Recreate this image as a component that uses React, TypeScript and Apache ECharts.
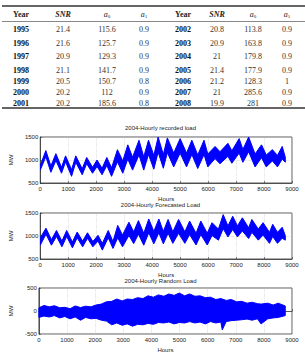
import React, { useEffect, useRef } from "react";
import * as echarts from "echarts";

// ---------- table data ----------
const leftYears = [1995, 1996, 1997, 1998, 1999, 2000, 2001];
const leftSNR = [21.4, 21.6, 20.9, 21.1, 20.5, 20.2, 20.2];
const leftA0 = [115.6, 125.7, 129.3, 141.7, 150.7, 112, 185.6];
const leftA1 = [0.9, 0.9, 0.9, 0.9, 0.8, 0.9, 0.8];
const rightYears = [2002, 2003, 2004, 2005, 2006, 2007, 2008];
const rightSNR = [20.8, 20.9, 21, 21.4, 21.2, 21, 19.9];
const rightA0 = [113.8, 163.8, 179.8, 177.9, 128.3, 285.6, 281];
const rightA1 = [0.9, 0.9, 0.9, 0.9, 1, 0.9, 0.9];

// ---------- chart titles / ticks ----------
const chartTitles = ["2004-Hourly recorded load", "2004-Hourly Forecasted Load", "2004-Hourly Random Load"];
const hourTicks = { min: 0, max: 9000, step: 1000 };
const loadTicks = { min: 500, max: 1500, step: 500 };
const randomTicks = { min: -500, max: 500, step: 500 };

// ---------- recorded load envelope (MW) ----------
const recordedHours = [
  0, 200, 380, 560, 760, 905, 1120, 1270, 1500, 1660,
  1870, 2030, 2210, 2380, 2550, 2760, 2950, 3130, 3300, 3530,
  3700, 3870, 4060, 4215, 4400, 4545, 4770, 5000, 5230, 5420,
  5630, 5855, 5990, 6250, 6425, 6710, 6850, 7110, 7245, 7450,
  7680, 7910, 8080, 8300, 8480, 8650, 8760,
];
const recordedUpper = [
  880, 1205, 870, 1137, 840, 1090, 790, 1090, 810, 1055,
  840, 1000, 820, 1055, 830, 1225, 980, 1330, 1060, 1430,
  1070, 1430, 1100, 1500, 1120, 1480, 1150, 1465, 1150, 1430,
  1110, 1430, 1130, 1295, 1180, 1363, 1200, 1465, 1230, 1500,
  1130, 1330, 1110, 1225, 1100, 1295, 1060,
];
const recordedLower = [
  780, 1070, 733, 990, 712, 960, 645, 950, 680, 920,
  712, 860, 680, 880, 645, 960, 712, 1020, 780, 1110,
  780, 1120, 800, 1170, 820, 1160, 850, 1150, 850, 1120,
  815, 1120, 850, 1030, 918, 1080, 930, 1150, 950, 1180,
  850, 1050, 850, 980, 850, 1020, 950,
];

// ---------- forecasted load envelope (MW) ----------
const forecastHours = [
  0, 205, 400, 580, 775, 945, 1150, 1320, 1515, 1690,
  1880, 2065, 2220, 2430, 2600, 2770, 2940, 3170, 3340, 3510,
  3700, 3880, 4060, 4240, 4400, 4570, 4740, 4945, 5170, 5340,
  5570, 5740, 5970, 6140, 6370, 6540, 6710, 6880, 7050, 7225,
  7450, 7565, 7795, 7965, 8195, 8310, 8480, 8650, 8760,
];
const forecastUpper = [
  960, 1170, 920, 1120, 890, 1120, 870, 1085, 890, 1070,
  880, 1015, 840, 1120, 880, 1230, 1020, 1300, 1090, 1335,
  1060, 1370, 1100, 1370, 1100, 1360, 1090, 1360, 1090, 1325,
  1060, 1325, 1060, 1290, 1150, 1465, 1220, 1430, 1220, 1395,
  1180, 1360, 1150, 1290, 1080, 1255, 1080, 1190, 1010,
];
const forecastLower = [
  800, 1040, 800, 990, 765, 990, 743, 960, 765, 950,
  765, 890, 693, 960, 730, 960, 765, 1010, 835, 1040,
  800, 1070, 830, 1070, 830, 1060, 840, 1060, 840, 1030,
  805, 1030, 805, 1010, 910, 1160, 980, 1140, 980, 1110,
  945, 1080, 910, 1020, 840, 990, 840, 950, 910,
];

// ---------- random load envelope (MW) ----------
const randomHours = [
  0, 180, 370, 550, 740, 920, 1110, 1290, 1480, 1660,
  1850, 2030, 2220, 2400, 2590, 2770, 2960, 3140, 3330, 3510,
  3700, 3880, 4070, 4250, 4440, 4620, 4810, 4990, 5180, 5360,
  5550, 5730, 5920, 6100, 6290, 6470, 6520, 6660, 6840, 7030,
  7210, 7400, 7580, 7770, 7900, 8140, 8330, 8510, 8760,
];
const randomUpper = [
  70, 120, 90, 115, 70, 80, 50, 110, 75, 105,
  90, 130, 150, 200, 210, 260, 220, 260, 250, 290,
  270, 330, 300, 350, 320, 370, 340, 390, 330, 370,
  320, 330, 290, 300, 250, 270, 260, 230, 250, 200,
  210, 170, 190, 160, 150, 170, 130, 170, 110,
];
const randomLower = [
  -140, -110, -130, -100, -150, -120, -170, -130, -200, -140,
  -170, -160, -200, -220, -300, -260, -310, -280, -330, -290,
  -300, -270, -290, -250, -260, -240, -280, -250, -260, -230,
  -260, -240, -280, -230, -260, -240, -410, -230, -210, -200,
  -190, -175, -200, -170, -280, -170, -150, -140, -100,
];

const SANS = "Liberation Sans, Arial, Helvetica, sans-serif";
const SERIF = "Liberation Serif, Times New Roman, serif";
const BLUE = "#0000ff";

function bandSeries(idx: number, hours: number[], lower: number[], upper: number[]) {
  const rows = hours.map((h, i) => [h, lower[i], upper[i]]);
  return {
    type: "custom",
    xAxisIndex: idx,
    yAxisIndex: idx,
    data: rows,
    encode: { x: 0, y: [1, 2] },
    clip: true,
    renderItem: (params: any, api: any) => {
      if (params.dataIndexInside !== 0) return null;
      const n = rows.length;
      const top: number[][] = [];
      const bottom: number[][] = [];
      for (let i = 0; i < n; i++) {
        const x = api.value(0, i);
        top.push(api.coord([x, api.value(2, i)]));
        bottom.push(api.coord([x, api.value(1, i)]));
      }
      return {
        type: "polygon",
        shape: { points: top.concat(bottom.reverse()) },
        style: { fill: BLUE, stroke: BLUE, lineWidth: 1, lineJoin: "round" },
      };
    },
  };
}

const gridTops = [137, 213, 288];
const gridHeight = 46;

function buildOption() {
  const grids = gridTops.map((t) => ({
    left: 29,
    right: 13,
    top: t,
    height: gridHeight,
    show: true,
    borderColor: "#333",
    borderWidth: 0.8,
    backgroundColor: "#fff",
  }));
  const xAxes = gridTops.map((_, i) => ({
    type: "value",
    gridIndex: i,
    min: hourTicks.min,
    max: hourTicks.max,
    interval: hourTicks.step,
    name: "Hours",
    nameLocation: "middle",
    nameGap: 13,
    nameTextStyle: { fontSize: 6, fontFamily: SANS, color: "#222" },
    axisLine: { show: true, lineStyle: { color: "#333", width: 0.8 } },
    axisTick: { show: true, inside: true, length: 2, lineStyle: { color: "#333", width: 0.6 } },
    axisLabel: { fontSize: 6, fontFamily: SANS, color: "#222", margin: 3, formatter: (v: number) => String(v) },
    splitLine: { show: true, lineStyle: { color: "#c8c8c8", type: "dotted", width: 0.6 } },
  }));
  const yTicks = [loadTicks, loadTicks, randomTicks];
  const yAxes = yTicks.map((tk, i) => ({
    type: "value",
    gridIndex: i,
    min: tk.min,
    max: tk.max,
    interval: tk.step,
    name: "MW",
    nameLocation: "middle",
    nameRotate: 90,
    nameGap: 15,
    nameTextStyle: { fontSize: 6, fontFamily: SANS, color: "#222" },
    axisLine: { show: true, lineStyle: { color: "#333", width: 0.8 } },
    axisTick: { show: true, inside: true, length: 2, lineStyle: { color: "#333", width: 0.6 } },
    axisLabel: { fontSize: 6, fontFamily: SANS, color: "#222", margin: 2, formatter: (v: number) => String(v) },
    splitLine: { show: true, lineStyle: { color: "#c8c8c8", type: "dotted", width: 0.6 } },
  }));

  const graphics: any[] = [];
  // table rules
  graphics.push({ type: "line", shape: { x1: 2, y1: 6, x2: 305, y2: 6 }, style: { stroke: "#333", lineWidth: 1.3 } });
  graphics.push({ type: "line", shape: { x1: 2, y1: 21.5, x2: 305, y2: 21.5 }, style: { stroke: "#555", lineWidth: 0.7 } });
  graphics.push({ type: "line", shape: { x1: 2, y1: 108, x2: 305, y2: 108 }, style: { stroke: "#333", lineWidth: 1.3 } });

  const colX = [21, 63, 107, 144, 183, 217, 253, 287];
  const headerY = 14;
  const rowY = [29, 43, 56.5, 70, 81, 92, 103];

  const txt = (x: number, y: number, text: string, extra: any = {}) => ({
    type: "text",
    x,
    y,
    style: {
      text,
      fill: "#222",
      fontSize: 8,
      fontFamily: SERIF,
      textAlign: "center",
      align: "center",
      textVerticalAlign: "middle",
      verticalAlign: "middle",
      ...extra,
    },
  });
  const subHeader = (x: number, sub: string) =>
    txt(x, headerY, `{i|a}{s|${sub}}`, {
      rich: {
        i: { fontStyle: "italic", fontSize: 8, fontFamily: SERIF, fill: "#222" },
        s: { fontSize: 5, fontFamily: SERIF, fill: "#222", padding: [4, 0, 0, 0] },
      },
    });

  [0, 4].forEach((off) => {
    graphics.push(txt(colX[off], headerY, "Year", { fontWeight: "bold" }));
    graphics.push(txt(colX[off + 1], headerY, "SNR", { fontWeight: "bold", fontStyle: "italic" }));
    graphics.push(subHeader(colX[off + 2], "0"));
    graphics.push(subHeader(colX[off + 3], "1"));
  });
  const cols = [
    [leftYears, leftSNR, leftA0, leftA1],
    [rightYears, rightSNR, rightA0, rightA1],
  ];
  cols.forEach((set, si) => {
    set.forEach((arr, ci) => {
      arr.forEach((v, ri) => {
        graphics.push(
          txt(colX[si * 4 + ci], rowY[ri], String(v), ci === 0 ? { fontWeight: "bold", fill: "#111" } : { fill: "#333" })
        );
      });
    });
  });

  // chart titles
  const titleY = [128, 204.5, 281];
  chartTitles.forEach((t, i) => {
    graphics.push({
      type: "text",
      x: 160.5,
      y: titleY[i],
      style: {
        text: t,
        fill: "#222",
        fontSize: 6,
        fontFamily: SANS,
        textAlign: "center",
        align: "center",
        textVerticalAlign: "middle",
        verticalAlign: "middle",
      },
    });
  });

  return {
    animation: false,
    backgroundColor: "#fff",
    grid: grids,
    xAxis: xAxes,
    yAxis: yAxes,
    graphic: graphics,
    series: [
      bandSeries(0, recordedHours, recordedLower, recordedUpper),
      bandSeries(1, forecastHours, forecastLower, forecastUpper),
      bandSeries(2, randomHours, randomLower, randomUpper),
    ],
  };
}

export default function App() {
  const ref = useRef<HTMLDivElement>(null);
  useEffect(() => {
    if (!ref.current) return;
    const chart = echarts.init(ref.current, null, { renderer: "svg" });
    chart.setOption(buildOption() as any);
    return () => chart.dispose();
  }, []);
  return (
    <div
      ref={ref}
      style={{ position: "absolute", left: 0, top: 0, width: 305, height: 355, background: "#fff" }}
    />
  );
}
